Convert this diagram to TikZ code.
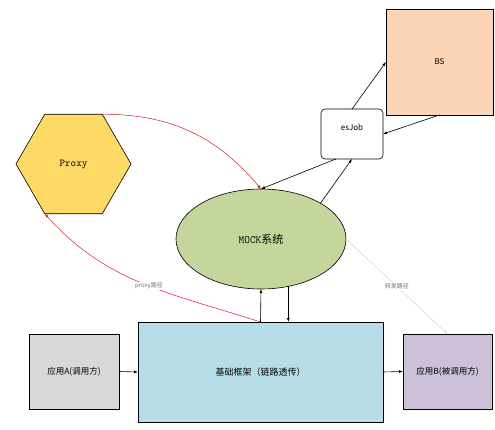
\documentclass[tikz,border=0pt]{standalone}
\usepackage{tikz}
\usetikzlibrary{calc}
\usetikzlibrary{arrows.meta}
\usetikzlibrary{shapes.geometric}
\usepackage{fontspec}
\newfontfamily\cjk{Noto Sans CJK SC}
\usepackage{color}
\definecolor{proxyyellow}{RGB}{255, 217, 102}
\definecolor{mockgreen}{RGB}{196, 214, 156}
\definecolor{bspeach}{RGB}{251, 213, 181}
\definecolor{baseblue}{RGB}{183, 221, 232}
\definecolor{appgray}{RGB}{216, 216, 216}
\definecolor{applilac}{RGB}{204, 192, 218}
\definecolor{pathred}{RGB}{205, 30, 45}
\definecolor{pathgray}{RGB}{215, 215, 215}

\tikzset{
    box/.style    = {draw=black, line width=0.6pt, inner sep=0pt, outer sep=0pt},
    arr/.style    = {line width=0.6pt, -{Latex[length=4pt,width=3pt]}},
    redarr/.style = {draw=pathred, line width=0.5pt, -{Latex[length=4pt,width=3pt]}},
    tag/.style    = {fill=white, inner sep=1pt, text=black!55, font=\cjk\fontsize{6}{7}\selectfont},
}

\begin{document}
\begin{tikzpicture}[x=1pt, y=1pt]
            \useasboundingbox (0,0) rectangle (495,-430);
            \node[box, regular polygon, regular polygon sides=6, minimum size=115pt, fill=proxyyellow,
                  font=\ttfamily\fontsize{10.5}{12}\selectfont]                (proxy) at ( 73.5, -164.0) {Proxy};
            \node[box, ellipse, minimum width=170pt, minimum height=100pt, fill=mockgreen,
                  font=\fontsize{11}{13}\selectfont]                           (mock)  at (261.0, -239.0) {{\ttfamily MOCK}{\cjk 系统}};
            \node[box, minimum width=107pt, minimum height=106pt, fill=bspeach,
                  font=\cjk\fontsize{8}{10}\selectfont]                        (bs)    at (439.5,  -62.0) {BS};
            \node[box, rounded corners=4pt, minimum width=62pt, minimum height=50pt, fill=white,
                  text depth=14pt, font=\cjk\fontsize{8}{10}\selectfont]       (esjob) at (352.0, -134.0) {esJob};
            \node[box, minimum width=245pt, minimum height=100pt, fill=baseblue,
                  font=\cjk\fontsize{9}{11}\selectfont]                        (base)  at (260.5, -372.0) {基础框架（链路透传）};
            \node[box, minimum width=90pt, minimum height=75pt, fill=appgray,
                  font=\cjk\fontsize{8.5}{10}\selectfont]                      (appa)  at ( 74.0, -371.5) {应用A(调用方)};
            \node[box, minimum width=89pt, minimum height=75pt, fill=applilac,
                  font=\cjk\fontsize{8.5}{10}\selectfont]                      (appb)  at (447.5, -371.5) {应用B(被调用方)};

            \draw[arr]    (esjob.north)  -- (bs.west);
            \draw[arr]    (bs.south)     -- (esjob.east);
            \draw[arr]    (esjob.237)    -- (mock.north);
            \draw[arr]    (mock.31)      -- (esjob.south);
            \draw[arr]    (appa.east)    -- (base.west);
            \draw[arr]    (base.east)    -- (appb.west);
            \draw[arr]    (base.north)   -- (mock.south);
            \draw[arr]    (mock.-60)     -- (mock.-60 |- base.north);
            \draw[redarr] (proxy.60)     to[out=0, in=130]    (mock.north);
            \draw[redarr] (base.north)   to[out=162, in=-48]
                 node[tag, pos=0.47] {proxy路径} (proxy.240);
            \draw[draw=pathgray, line width=0.6pt, -{Latex[length=4pt,width=3pt]}] (mock.east) -- (appb.north)
                 node[tag, pos=0.5] {转发路径};
\end{tikzpicture}
\end{document}
